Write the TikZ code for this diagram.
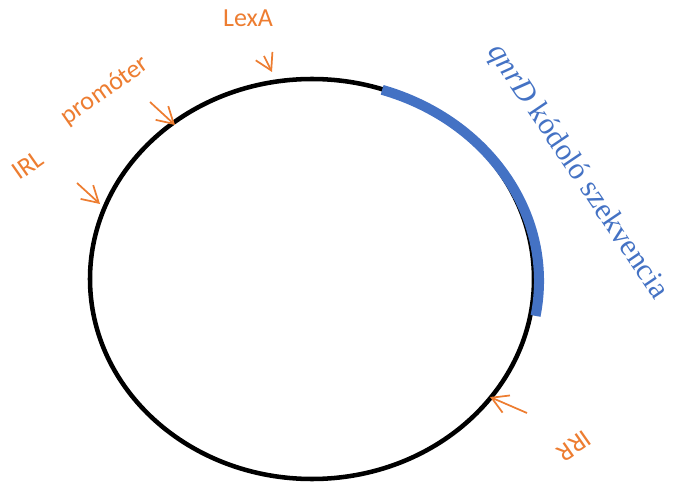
\documentclass[tikz,border=0pt]{standalone}
\usepackage{fontspec}
\setmainfont{Carlito}
\newfontfamily\seqfont{Liberation Serif}
\usetikzlibrary{arrows.meta}
\definecolor{siteorange}{HTML}{ED7D31}
\definecolor{geneblue}{HTML}{4472C4}
\tikzset{
 pl backbone/.style={line width=3.4pt,black},
 pl gene/.style={line width=7.5pt,geneblue},
 pl site arrow/.style={line width=1.3pt,siteorange,
                       -{Straight Barb[length=12pt,width=14pt]}},
 pl site label/.style={text=siteorange,inner sep=0pt,
                       font=\fontsize{19.5}{22}\selectfont},
 pl gene label/.style={text=geneblue,inner sep=0pt,
                       font=\seqfont\fontsize{23}{27}\selectfont}
}

\begin{document}
\begin{tikzpicture}[x=.75pt,y=-.75pt]
 \useasboundingbox (0,0) rectangle (676,485);
 \coordinate (ori) at (312,279);
 \coordinate (gene ctr) at (312,281);
 \draw[pl backbone] (ori) ellipse [x radius=222,y radius=200];
 % coding region (y axis points down, so angles are mirrored)
 \draw[pl gene] (gene ctr) ++(-72:227 and 201)
   arc[start angle=-72,end angle=10,x radius=227,y radius=201];
 \foreach \s/\tx/\ty/\hx/\hy in {lexa/264/56/272/72,prom/150/102/175/125,
                                 irl/77/183/100/204,irr/527/413/490/397}{
   \coordinate (\s tail) at (\tx,\ty);
   \coordinate (\s tip) at (\hx,\hy);
   \draw[pl site arrow] (\s tail) -- (\s tip);
 }
 \node[pl site label] (lexa) at (248,18) {LexA};
 \node[pl site label,rotate=35] (prom) at (105,91) {promóter};
 \node[pl site label,rotate=35] (irl) at (28,165) {IRL};
 \node[pl site label,rotate=215] (irr) at (574,446) {IRR};
 \node[pl gene label,rotate=-56] (qnrd) at (577,172)
   {\textit{qnrD} kódoló szekvencia};
\end{tikzpicture}
\end{document}
